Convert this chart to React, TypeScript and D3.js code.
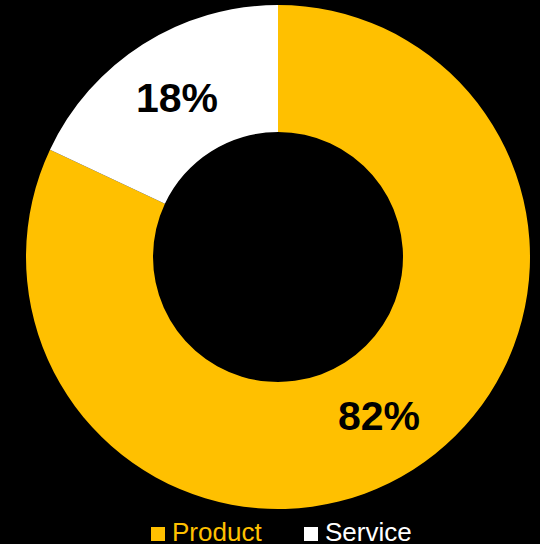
import React from "react";
import * as d3 from "d3";

const categories = ["Product", "Service"];
const values = [82, 18];
const colors = ["#FFC000", "#FFFFFF"];

const W = 540;
const H = 544;
const cx = 278;
const cy = 257;
const rOuter = 252;
const rInner = 125;

export default function App() {
  const pie = d3.pie<number>().sort(null).value((d) => d);
  const arcs = pie(values);
  const arc = d3.arc<d3.PieArcDatum<number>>().innerRadius(rInner).outerRadius(rOuter);
  const total = d3.sum(values);
  const legendX = [151, 304];
  return (
    <svg
      width={W}
      height={H}
      style={{ position: "absolute", left: 0, top: 0, background: "#000" }}
      fontFamily="Arial, 'Liberation Sans', sans-serif"
    >
      <rect width={W} height={H} fill="#000" />
      <g transform={`translate(${cx},${cy})`}>
        {arcs.map((a, i) => (
          <path key={i} d={arc(a) || ""} fill={colors[i]} />
        ))}
        {arcs.map((a, i) => {
          const [x, y] = arc.centroid(a);
          return (
            <text
              key={"t" + i}
              x={x}
              y={y}
              textAnchor="middle"
              dominantBaseline="central"
              fontSize={41}
              fontWeight="bold"
              fill="#000"
            >
              {Math.round((a.data / total) * 100)}%
            </text>
          );
        })}
      </g>
      {categories.map((c, i) => (
        <g key={c}>
          <rect x={legendX[i]} y={527} width={14} height={14} fill={colors[i]} />
          <text x={legendX[i] + 21} y={541} fontSize={26} fill={colors[i]}>
            {c}
          </text>
        </g>
      ))}
    </svg>
  );
}
